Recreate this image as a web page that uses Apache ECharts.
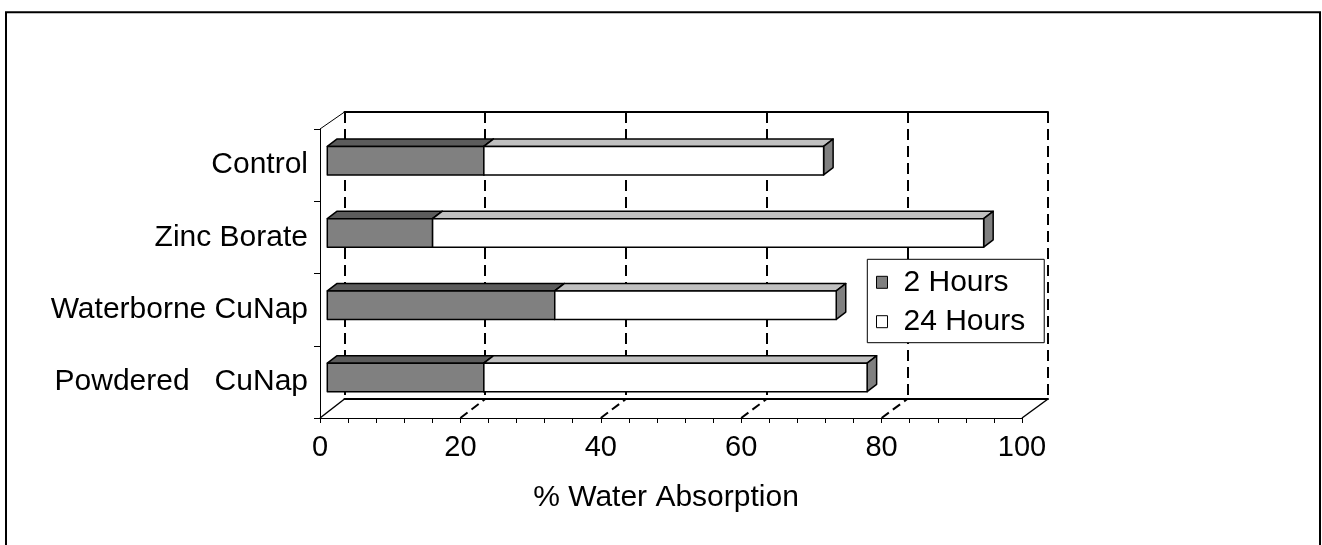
<!DOCTYPE html>
<html><head><meta charset="utf-8">
<script src="https://cdn.jsdelivr.net/npm/echarts@6/dist/echarts.min.js"></script>
<style>html,body{margin:0;padding:0;background:#fff}#main{width:1322px;height:545px}</style>
</head><body><div id="main"></div>
<script>
// ---- data ----
const categories = ['Control', 'Zinc Borate', 'Waterborne CuNap', 'Powdered   CuNap'];
const hours2 = [22.3, 15.0, 32.4, 22.3];          // 2 Hours segment
const hours24 = [48.4, 78.5, 40.1, 54.6];         // 24 Hours segment (stacked on 2 Hours)
const xTicks = [0, 20, 40, 60, 80, 100];
const seriesNames = ['2 Hours', '24 Hours'];
const axisTitle = '% Water Absorption';

// ---- layout / style ----
const FONT = "'Liberation Sans', Arial, sans-serif";
const FRONT = {left: 320, top: 129, width: 702, height: 289};
const BACK = {left: 344.5, top: 112, width: 703.5, height: 287};
const BAR_H = 28.5, OX = 7.3, OY = -4.5, DX = 9.5, DY = -7.3;

function barRender(frontC, topC, sideC) {
  return function (params, api) {
    const i = api.value(0), s = api.value(1), e = api.value(2);
    const a = api.coord([s, i]), b = api.coord([e, i]);
    const x0 = a[0] + OX, x1 = b[0] + OX, yc = a[1] + OY;
    const yt = yc - BAR_H / 2, yb = yc + BAR_H / 2;
    const st = {stroke: '#000', lineWidth: 1.5, lineJoin: 'round'};
    return {
      type: 'group',
      children: [
        {type: 'polygon', shape: {points: [[x0, yt], [x1, yt], [x1 + DX, yt + DY], [x0 + DX, yt + DY]]},
         style: Object.assign({fill: topC}, st)},
        {type: 'polygon', shape: {points: [[x1, yt], [x1 + DX, yt + DY], [x1 + DX, yb + DY], [x1, yb]]},
         style: Object.assign({fill: sideC}, st)},
        {type: 'rect', shape: {x: x0, y: yt, width: x1 - x0, height: BAR_H},
         style: Object.assign({fill: frontC}, st)}
      ]
    };
  };
}

const chart = echarts.init(document.getElementById('main'), null, {renderer: 'canvas'});
const option = {
  backgroundColor: '#fff',
  animation: false,
  grid: [
    {left: FRONT.left, top: FRONT.top, width: FRONT.width, height: FRONT.height},
    {left: BACK.left, top: BACK.top, width: BACK.width, height: BACK.height}
  ],
  xAxis: [
    {gridIndex: 0, type: 'value', min: 0, max: 100, interval: 20,
     axisLine: {show: true, lineStyle: {color: '#000', width: 1}},
     axisTick: {show: true, length: 5, lineStyle: {color: '#000', width: 1}},
     minorTick: {show: true, splitNumber: 5, length: 5, lineStyle: {color: '#000', width: 1}},
     axisLabel: {fontSize: 29, color: '#000', fontFamily: FONT, margin: 15},
     splitLine: {show: false}},
    {gridIndex: 1, type: 'value', min: 0, max: 100, interval: 20, position: 'bottom',
     axisLine: {show: true, lineStyle: {color: '#000', width: 2}},
     axisTick: {show: false}, axisLabel: {show: false},
     splitLine: {show: true, showMinLine: true, showMaxLine: true, lineStyle: {color: '#000', width: 2, type: [11, 6]}}},
    {gridIndex: 1, type: 'value', min: 0, max: 100, position: 'top',
     axisLine: {show: true, lineStyle: {color: '#000', width: 2}},
     axisTick: {show: false}, axisLabel: {show: false}, splitLine: {show: false}}
  ],
  yAxis: [
    {gridIndex: 0, type: 'category', data: categories, inverse: true,
     axisLine: {show: true, lineStyle: {color: '#000', width: 1}},
     axisTick: {show: true, length: 6, lineStyle: {color: '#000', width: 1}},
     axisLabel: {fontSize: 30, color: '#000', fontFamily: FONT, margin: 12},
     splitLine: {show: false}},
    {gridIndex: 1, type: 'category', data: categories, inverse: true, show: false}
  ],
  legend: {
    orient: 'vertical', left: 867.3, top: 259.3,
    padding: [8, 19, 6, 8.7], itemGap: 9.4, itemWidth: 11, itemHeight: 12,
    backgroundColor: '#fff', borderColor: '#000', borderWidth: 1,
    selectedMode: false,
    textStyle: {fontSize: 30, lineHeight: 30, color: '#000', fontFamily: FONT, padding: [0, 0, 0, 11]},
    data: [
      {name: seriesNames[0], icon: 'rect', itemStyle: {color: '#808080', borderColor: '#000', borderWidth: 1}},
      {name: seriesNames[1], icon: 'rect', itemStyle: {color: '#fff', borderColor: '#000', borderWidth: 1}}
    ]
  },
  series: [
    {type: 'custom', name: seriesNames[0], xAxisIndex: 0, yAxisIndex: 0, z: 5,
     renderItem: barRender('#808080', '#5c5c5c', '#404040'),
     itemStyle: {color: '#808080', borderColor: '#000'},
     encode: {x: [1, 2], y: 0},
     data: categories.map((c, i) => [i, 0, hours2[i]])},
    {type: 'custom', name: seriesNames[1], xAxisIndex: 0, yAxisIndex: 0, z: 6,
     renderItem: barRender('#ffffff', '#c0c0c0', '#808080'),
     itemStyle: {color: '#ffffff', borderColor: '#000'},
     encode: {x: [1, 2], y: 0},
     data: categories.map((c, i) => [i, hours2[i], hours2[i] + hours24[i]])}
  ]
};
chart.setOption(option);

// 3D frame: floor diagonals and left wall top edge, tied to both axes
const gfx = [];
const yFront = FRONT.top + FRONT.height, yBack = BACK.top + BACK.height;
xTicks.forEach((v, k) => {
  const xf = chart.convertToPixel({xAxisIndex: 0}, v);
  const xb = chart.convertToPixel({xAxisIndex: 1}, v);
  const edge = (k === 0 || k === xTicks.length - 1);
  gfx.push({type: 'line', z: 1, silent: true,
    shape: {x1: xf, y1: yFront, x2: xb, y2: yBack},
    style: {stroke: '#000', lineWidth: edge ? 1.5 : 2, lineDash: edge ? null : [9, 5]}});
});
gfx.push({type: 'line', z: 1, silent: true,
  shape: {x1: FRONT.left, y1: FRONT.top, x2: BACK.left, y2: BACK.top},
  style: {stroke: '#000', lineWidth: 1}});
gfx.push({type: 'text', z: 10, x: 666, y: 498, silent: true,
  style: {text: axisTitle, fontSize: 30, fontFamily: FONT, fill: '#000', align: 'center', verticalAlign: 'middle'}});
gfx.push({type: 'rect', z: 10, silent: true,
  shape: {x: 6, y: 12.3, width: 1314, height: 600},
  style: {fill: 'none', stroke: '#000', lineWidth: 2}});
chart.setOption({graphic: gfx});
</script>
</body></html>
